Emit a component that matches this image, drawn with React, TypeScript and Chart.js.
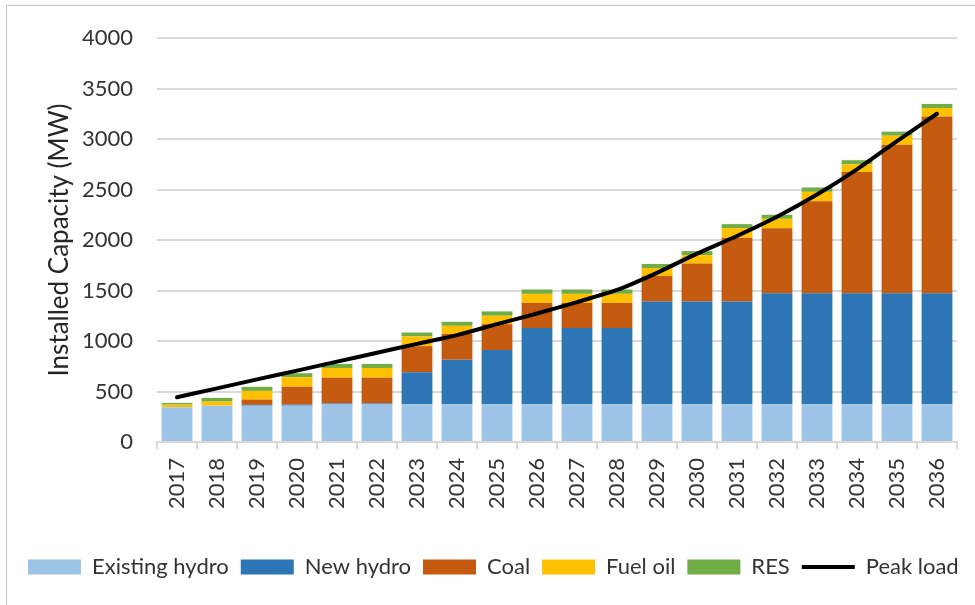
import React, { useEffect, useRef } from "react";
import { Chart, registerables } from "chart.js";

Chart.register(...registerables);

const years = ["2017", "2018", "2019", "2020", "2021", "2022", "2023", "2024", "2025", "2026", "2027", "2028", "2029", "2030", "2031", "2032", "2033", "2034", "2035", "2036"];
const existingHydro = [345, 360, 360, 360, 372, 372, 375, 375, 375, 375, 375, 375, 375, 375, 375, 375, 375, 375, 375, 375];
const newHydro = [0, 0, 8, 10, 10, 10, 316, 440, 535, 753, 753, 753, 1015, 1015, 1016, 1098, 1098, 1098, 1098, 1098];
const coal = [0, 0, 52, 178, 255, 255, 258, 255, 257, 249, 249, 249, 253, 377, 632, 644, 910, 1200, 1470, 1750];
const fuelOil = [25, 40, 86, 93, 96, 96, 96, 80, 83, 90, 90, 90, 80, 83, 94, 93, 94, 77, 90, 84];
const res = [17, 37, 40, 40, 40, 40, 39, 40, 43, 43, 43, 43, 40, 40, 40, 40, 43, 40, 40, 40];
const peakLoad = [443, 531, 620, 707, 796, 883, 972, 1058, 1167, 1272, 1385, 1505, 1675, 1865, 2040, 2230, 2450, 2700, 2980, 3250];
const yTicks = { min: 0, max: 4000, step: 500 };

const FONT = "Lato, 'Liberation Sans', sans-serif";
const TEXT = "#333333";
const GRID = "#d9d9d9";

export default function App() {
  const ref = useRef<HTMLCanvasElement>(null);

  useEffect(() => {
    const canvas = ref.current;
    if (!canvas) return;
    Chart.defaults.font.family = FONT;
    const chart = new Chart(canvas, {
      type: "bar",
      data: {
        labels: years,
        datasets: [
          { label: "Existing hydro", data: existingHydro, backgroundColor: "#9DC3E6", stack: "gen", order: 1, pointStyle: "rect", borderWidth: 0 } as any,
          { label: "New hydro", data: newHydro, backgroundColor: "#2E75B6", stack: "gen", order: 1, pointStyle: "rect", borderWidth: 0 },
          { label: "Coal", data: coal, backgroundColor: "#C55A11", stack: "gen", order: 1, pointStyle: "rect", borderWidth: 0 },
          { label: "Fuel oil", data: fuelOil, backgroundColor: "#FFC000", stack: "gen", order: 1, pointStyle: "rect", borderWidth: 0 },
          { label: "RES", data: res, backgroundColor: "#70AD47", stack: "gen", order: 1, pointStyle: "rect", borderWidth: 0 },
          {
            type: "line",
            label: "Peak load",
            data: peakLoad,
            borderColor: "#000000",
            backgroundColor: "#000000",
            borderWidth: 4,
            pointRadius: 0,
            pointHoverRadius: 0,
            pointStyle: "line",
            pointBorderWidth: 4,
            pointBorderColor: "#000000",
            tension: 0.25,
            fill: false,
            stack: "load",
            order: 0,
            borderCapStyle: "round",
          } as any,
        ],
      },
      options: {
        responsive: false,
        animation: false,
        devicePixelRatio: 1,
        layout: { padding: { left: 16, top: 38, right: 0, bottom: 17 } },
        datasets: { bar: { barPercentage: 0.77, categoryPercentage: 1 } },
        plugins: {
          tooltip: { enabled: false },
          legend: {
            position: "bottom",
            align: "start",
            labels: {
              usePointStyle: true,
              pointStyleWidth: 53,
              boxHeight: 15,
              padding: 12,
              color: TEXT,
              font: { size: 22, family: FONT },
              sort: (a: any, b: any) => a.datasetIndex - b.datasetIndex,
            },
          },
        },
        scales: {
          x: {
            stacked: true,
            grid: { display: true, drawOnChartArea: false, drawTicks: true, tickLength: 7, color: GRID, lineWidth: 2, offset: true },
            border: { display: true, color: GRID, width: 2 },
            ticks: { autoSkip: false, maxRotation: 90, minRotation: 90, padding: 9, color: TEXT, font: { size: 22, family: FONT } },
            afterFit: (s: any) => { s.height = 102; },
          },
          y: {
            stacked: true,
            min: yTicks.min,
            max: yTicks.max,
            ticks: {
              stepSize: yTicks.step,
              padding: 24,
              color: TEXT,
              font: { size: 22, family: FONT },
              callback: (v: any) => String(v),
            },
            grid: { color: GRID, lineWidth: 2, drawTicks: false },
            border: { display: false },
            title: { display: true, text: "Installed Capacity (MW)", color: "#262626", font: { size: 26, family: FONT }, padding: { top: 28, bottom: 0 } },
            afterFit: (s: any) => { s.width = 141; },
          },
          yR: {
            position: "right",
            display: true,
            grid: { display: false },
            ticks: { display: false },
            border: { display: false },
            afterFit: (s: any) => { s.width = 18; },
          },
        },
      } as any,
    });
    return () => chart.destroy();
  }, []);

  return (
    <div style={{ position: "absolute", left: 0, top: 0, width: 975, height: 605, background: "#ffffff", overflow: "hidden" }}>
      <div style={{ position: "absolute", left: 6, top: 5, width: 1000, height: 700, border: "1px solid #c4c4c4", boxSizing: "border-box" }} />
      <canvas ref={ref} width={975} height={605} style={{ position: "absolute", left: 0, top: 0, width: 975, height: 605 }} />
    </div>
  );
}
